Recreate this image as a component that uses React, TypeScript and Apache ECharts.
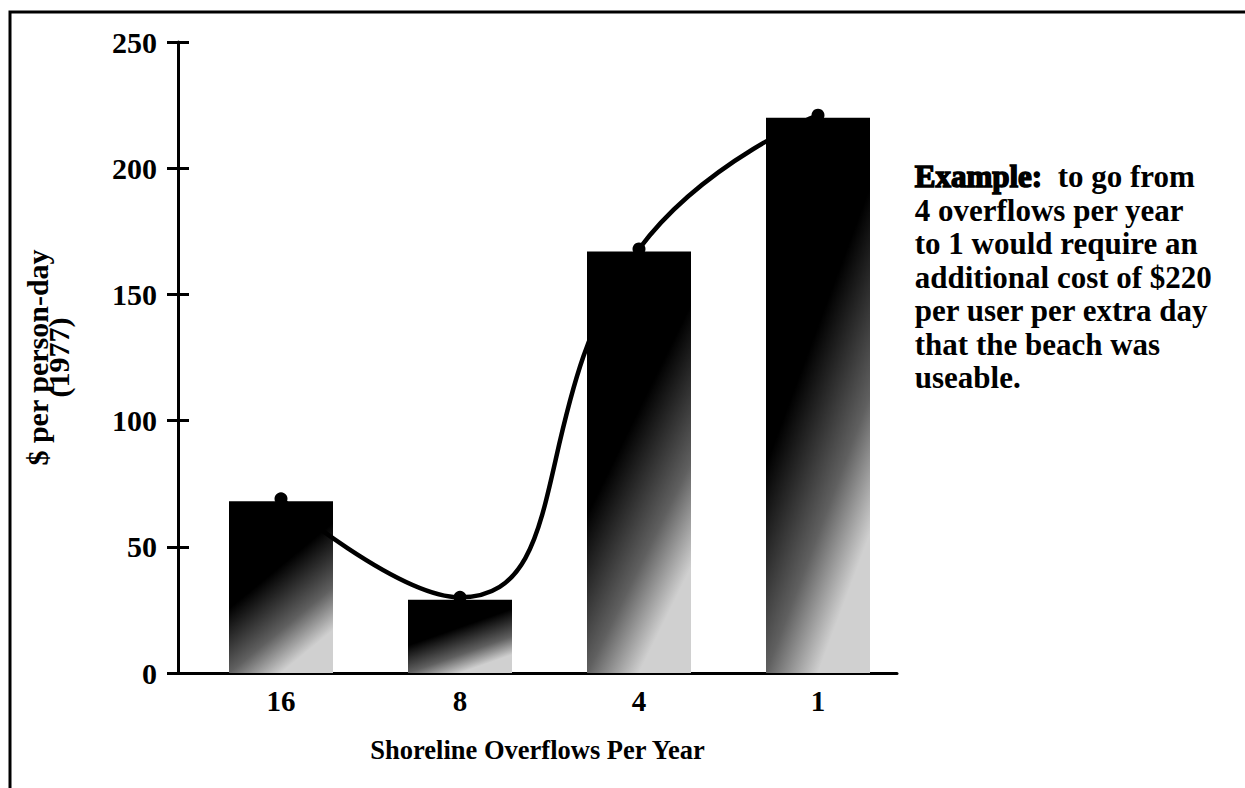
import React, { useEffect, useRef } from "react";
import * as echarts from "echarts";

const categories = ["16", "8", "4", "1"];
const barValues = [68, 29, 167, 220];
const lineValues = [69, 30, 168, 221];
const yTicks = { min: 0, max: 250, interval: 50 };
const annotationLines = [
  "to go from",
  "4 overflows per year",
  "to 1 would require an",
  "additional cost of $220",
  "per user per extra day",
  "that the beach was",
  "useable.",
];

const FONT = "'Liberation Serif', 'DejaVu Serif', serif";

export default function App() {
  const ref = useRef<HTMLDivElement>(null);
  useEffect(() => {
    document.body.style.margin = "0";
    const chart = echarts.init(ref.current!, null, { renderer: "svg" });
    const barGradient = new echarts.graphic.LinearGradient(0, 0, 0.5, 1, [
      { offset: 0, color: "#000" },
      { offset: 0.5, color: "#000" },
      { offset: 0.8, color: "#606060" },
      { offset: 1, color: "#d0d0d0" },
    ]);
    const annoText =
      "{b|Example:}  " + annotationLines[0] + "\n" + annotationLines.slice(1).join("\n");
    const labelFont = { color: "#000", fontFamily: FONT, fontWeight: "bold" };
    chart.setOption({
      animation: false,
      backgroundColor: "#fff",
      grid: [
        { left: 178, top: 42, right: 348, bottom: 115 },
        { left: 191.5, top: 42, right: 337.5, bottom: 115 },
      ],
      xAxis: [
        {
          gridIndex: 0,
          type: "value",
          min: 0,
          max: 1,
          splitLine: { show: false },
          axisLine: { show: true, lineStyle: { color: "#000", width: 3 } },
          axisTick: { show: false },
          axisLabel: { show: false },
          name: "Shoreline Overflows Per Year",
          nameLocation: "middle",
          nameGap: 63,
          nameTextStyle: { ...labelFont, fontSize: 26.5 },
        },
        {
          gridIndex: 1,
          type: "category",
          data: categories,
          boundaryGap: true,
          axisLine: { show: false },
          axisTick: { show: false },
          axisLabel: { ...labelFont, fontSize: 29, margin: 13 },
        },
      ],
      yAxis: [
        {
          gridIndex: 0,
          type: "value",
          min: yTicks.min,
          max: yTicks.max,
          interval: yTicks.interval,
          splitLine: { show: false },
          axisLine: { show: true, lineStyle: { color: "#000", width: 3 } },
          axisTick: { show: true, length: 11, lineStyle: { color: "#000", width: 3 } },
          axisLabel: { ...labelFont, fontSize: 30, margin: 21 },
          name: "$ per person-day\n(1977)",
          nameLocation: "middle",
          nameGap: 109,
          nameTextStyle: { ...labelFont, fontSize: 30, lineHeight: 21 },
        },
        {
          gridIndex: 0,
          type: "value",
          position: "left",
          min: yTicks.min,
          max: yTicks.max,
          interval: yTicks.interval,
          splitLine: { show: false },
          axisLine: { show: false },
          axisTick: { show: true, inside: true, length: 11, lineStyle: { color: "#000", width: 3 } },
          axisLabel: { show: false },
        },
        {
          gridIndex: 1,
          type: "value",
          min: yTicks.min,
          max: yTicks.max,
          interval: yTicks.interval,
          show: false,
        },
      ],
      series: [
        {
          type: "bar",
          xAxisIndex: 1,
          yAxisIndex: 2,
          data: barValues,
          barWidth: 104,
          itemStyle: { color: barGradient },
          z: 2,
        },
        {
          type: "line",
          xAxisIndex: 1,
          yAxisIndex: 2,
          data: lineValues,
          smooth: 0.5,
          symbol: "circle",
          symbolSize: 13,
          lineStyle: { color: "#000", width: 4.5 },
          itemStyle: { color: "#000" },
          z: 3,
        },
      ],
      graphic: [
        {
          type: "rect",
          shape: { x: 10, y: 12, width: 1400, height: 1000 },
          style: { fill: "none", stroke: "#000", lineWidth: 3 },
          silent: true,
        },
        {
          type: "text",
          left: 914,
          top: 160,
          style: {
            text: annoText,
            fontFamily: FONT,
            fontWeight: "bold",
            fontSize: 31,
            lineHeight: 33.5,
            fill: "#000",
            rich: {
              b: {
                fontFamily: FONT,
                fontWeight: "bold",
                fontSize: 31,
                lineHeight: 33.5,
                fill: "#000",
                textStroke: "#000",
                textStrokeWidth: 1.5,
                stroke: "#000",
                lineWidth: 1.5,
              },
            },
          },
        },
      ],
    });
    return () => chart.dispose();
  }, []);
  return (
    <div
      ref={ref}
      style={{ position: "absolute", left: 0, top: 0, width: 1245, height: 788 }}
    />
  );
}
